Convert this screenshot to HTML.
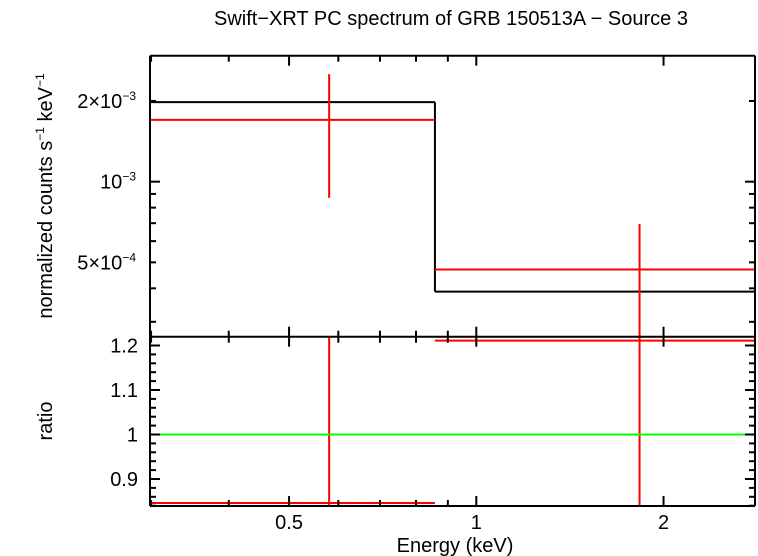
<!DOCTYPE html>
<html><head><meta charset="utf-8"><style>
body{margin:0;background:#fff}
svg{display:block;font-family:"Liberation Sans",sans-serif}
</style></head><body>
<svg id="c" width="758" height="556" xmlns="http://www.w3.org/2000/svg">
<text x="451" y="25" font-size="20" text-anchor="middle">Swift−XRT PC spectrum of GRB 150513A − Source 3</text>
<text transform="translate(52,196) rotate(-90)" font-size="20" text-anchor="middle">normalized counts s<tspan font-size="12" dy="-8">−1</tspan><tspan dy="8"> keV</tspan><tspan font-size="12" dy="-8">−1</tspan></text>
<text transform="translate(52,421) rotate(-90)" font-size="20" text-anchor="middle">ratio</text>
<text x="455" y="552" font-size="20" text-anchor="middle">Energy (keV)</text>
<g id="g"></g>
</svg>
<script>
const binEdges=[0.298,0.858,2.81];
const dataE=[0.58,1.83];
const dataY=[1.70e-3,4.7e-4];
const dataYlo=[8.7e-4,1.0e-4];
const dataYhi=[2.52e-3,6.95e-4];
const modelY=[1.98e-3,3.89e-4];
const ratioY=[0.846,1.211];
const ratioLo=[0.5,0.2];
const ratioHi=[1.5,1.5];
const xTicks=[0.5,1,2];
const xTickLabels=["0.5","1","2"];
const ratioTicks=[0.9,1,1.1,1.2];
const ratioTickLabels=["0.9","1","1.1","1.2"];

const L=150,R=755,T=55.7,M=336.7,B=506;
const X=e=>476.3+622*Math.log10(e);
const Y=v=>101+268*(Math.log10(2e-3)-Math.log10(v));
const RY=r=>434.5-445*(r-1);
const g=document.getElementById('g');
const NS='http://www.w3.org/2000/svg';
function ln(x1,y1,x2,y2,c,n,w){const l=document.createElementNS(NS,'line');
l.setAttribute('x1',x1);l.setAttribute('y1',y1);l.setAttribute('x2',x2);l.setAttribute('y2',y2);
l.setAttribute('stroke',c);l.setAttribute('stroke-width',w||2);


g.appendChild(l);return l;}
function tx(x,y,s,n,anchor){const t=document.createElementNS(NS,'text');
t.setAttribute('x',x);t.setAttribute('y',y);t.setAttribute('font-size','20');t.setAttribute('text-anchor',anchor||'middle');
t.textContent=s;


g.appendChild(t);return t;}
const cl=(v,a,b)=>Math.max(a,Math.min(b,v));
for(let i=0;i<modelY.length;i++){
 ln(X(binEdges[i]),Y(modelY[i]),X(binEdges[i+1]),Y(modelY[i]),'#000','model-step',2);
 if(i>0) ln(X(binEdges[i]),Y(modelY[i-1]),X(binEdges[i]),Y(modelY[i]),'#000','model-step-riser',2);
}
for(let i=0;i<dataY.length;i++){
 ln(cl(X(binEdges[i]),L,R),Y(dataY[i]),cl(X(binEdges[i+1]),L,R),Y(dataY[i]),'#f00','data-point',2);
 ln(X(dataE[i]),cl(Y(dataYhi[i]),T,M),X(dataE[i]),cl(Y(dataYlo[i]),T,M),'#f00','data-error-bar',2);
 ln(cl(X(binEdges[i]),L,R),RY(ratioY[i]),cl(X(binEdges[i+1]),L,R),RY(ratioY[i]),'#f00','ratio-point',2);
 ln(X(dataE[i]),cl(RY(ratioHi[i]),M,B),X(dataE[i]),cl(RY(ratioLo[i]),M,B),'#f00','ratio-error-bar',2);
}
ln(L,RY(1),R,RY(1),'#0f0','ratio-unity-line',2);
ln(L,T,R,T,'#000','frame-top',2);ln(L,M,R,M,'#000','frame-middle',2);ln(L,B,R,B,'#000','frame-bottom',2);
ln(L,T,L,B,'#000','frame-left',2);ln(R,T,R,B,'#000','frame-right',2);
const minorX=[0.3,0.4,0.5,0.6,0.7,0.8,0.9,1,2];
for(const e of minorX){const x=X(e);const big=xTicks.includes(e);const h=big?10:6;
 for(const [a,d] of [[T,1],[M,-1],[M,1],[B,-1]]) ln(x,a,x,a+d*h,'#000','x-tick',2);}
xTicks.forEach((e,i)=>tx(X(e),529,xTickLabels[i],'x-tick-label'));
const yMinor=[3e-4,4e-4,5e-4,6e-4,7e-4,8e-4,9e-4,1e-3,2e-3];
for(const v of yMinor){const y=Y(v);const h=(v===1e-3)?10:6;ln(L,y,L+h,y,'#000','y-tick',2);ln(R,y,R-h,y,'#000','y-tick',2);}
const yl=[[2e-3,'2×10','−3'],[1e-3,'10','−3'],[5e-4,'5×10','−4']];
for(const [v,a,b] of yl){const t=tx(136,Y(v)+7,'','y-tick-label','end');
 const s1=document.createElementNS(NS,'tspan');s1.textContent=a;t.appendChild(s1);
 const s2=document.createElementNS(NS,'tspan');s2.setAttribute('font-size','12');s2.setAttribute('dy','-8');s2.textContent=b;t.appendChild(s2);}
for(let k=0;k<=20;k++){const r=0.84+k*0.02;const y=RY(r);if(y<M||y>B)continue;
 const big=Math.abs((r*10)-Math.round(r*10))<1e-6;const h=big?10:6;
 ln(L,y,L+h,y,'#000','ratio-tick',2);ln(R,y,R-h,y,'#000','ratio-tick',2);}
ratioTicks.forEach((r,i)=>tx(138,RY(r)+7,ratioTickLabels[i],'ratio-tick-label','end'));
</script>
</body></html>
